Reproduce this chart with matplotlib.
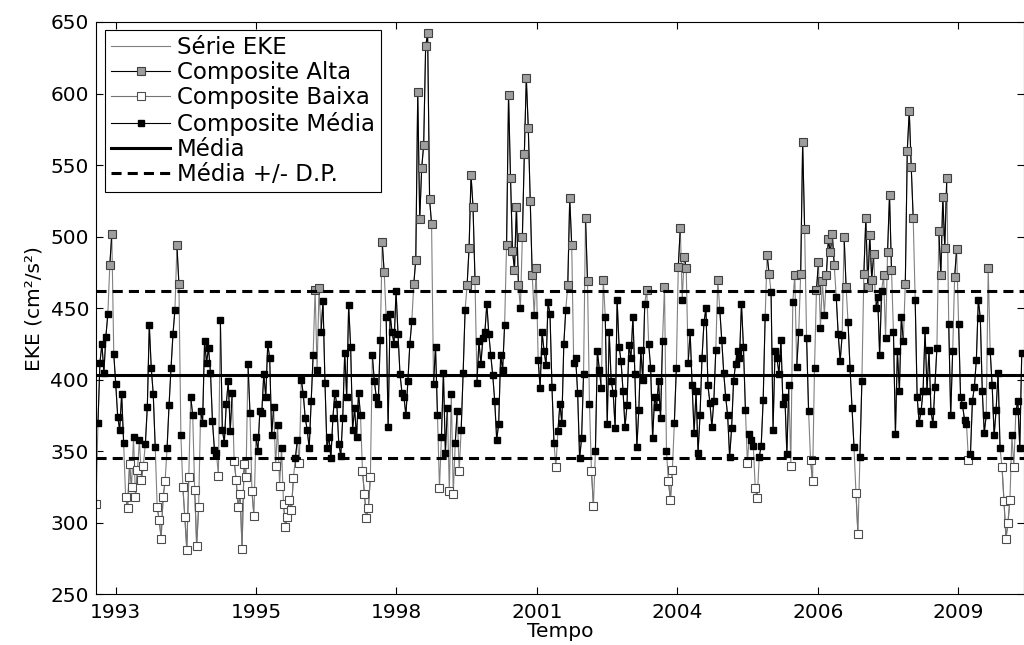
import datetime as dt
import numpy as np
import matplotlib.pyplot as plt

plt.rcParams['font.family'] = ['DejaVu Sans']

# serie EKE (cm2/s2), passo de ~14 dias a partir de out/1992
eke = [
    313, 370, 412, 425, 405, 430, 446, 480, 502, 418,
    397, 374, 365, 390, 356, 318, 310, 341, 325, 360,
    318, 337, 358, 330, 340, 355, 381, 438, 408, 390,
    353, 311, 302, 289, 318, 329, 352, 382, 408, 432,
    449, 494, 467, 361, 325, 304, 281, 332, 388, 375,
    323, 284, 311, 378, 370, 427, 412, 422, 405, 371,
    351, 349, 333, 442, 365, 356, 383, 399, 364, 391,
    343, 330, 311, 320, 282, 341, 332, 411, 377, 322,
    305, 360, 350, 378, 377, 404, 388, 425, 415, 361,
    381, 340, 368, 326, 352, 313, 297, 304, 316, 309,
    331, 345, 358, 342, 400, 390, 373, 365, 352, 385,
    417, 463, 407, 464, 433, 455, 398, 352, 360, 345,
    373, 391, 383, 355, 347, 373, 419, 388, 452, 423,
    365, 380, 360, 391, 375, 336, 320, 303, 310, 332,
    417, 399, 388, 383, 428, 496, 475, 444, 367, 446,
    433, 425, 462, 432, 404, 391, 388, 375, 399, 425,
    441, 467, 484, 601, 512, 548, 564, 633, 642, 526,
    509, 397, 423, 375, 324, 360, 405, 349, 380, 322,
    390, 320, 356, 378, 336, 365, 405, 449, 466, 492,
    543, 521, 470, 398, 427, 411, 429, 433, 453, 432,
    417, 403, 385, 358, 369, 417, 407, 438, 494, 599,
    541, 490, 477, 521, 466, 450, 500, 558, 611, 576,
    525, 473, 445, 478, 414, 394, 433, 420, 410, 454,
    446, 395, 356, 339, 364, 383, 370, 425, 449, 466,
    527, 494, 412, 415, 391, 345, 359, 404, 513, 469,
    383, 336, 312, 350, 420, 407, 394, 470, 444, 369,
    433, 399, 391, 366, 456, 423, 413, 392, 367, 382,
    424, 415, 444, 404, 353, 379, 421, 400, 453, 463,
    425, 408, 359, 388, 381, 399, 373, 427, 465, 350,
    329, 316, 337, 370, 408, 479, 506, 456, 486, 478,
    412, 433, 396, 363, 392, 349, 375, 415, 440, 450,
    396, 384, 367, 385, 421, 470, 449, 428, 405, 388,
    375, 346, 366, 399, 411, 420, 415, 453, 423, 379,
    342, 362, 358, 354, 324, 317, 346, 354, 386, 444,
    487, 474, 461, 365, 420, 415, 404, 428, 383, 388,
    348, 396, 340, 454, 473, 409, 433, 474, 566, 505,
    429, 378, 344, 329, 408, 463, 482, 436, 469, 445,
    473, 498, 489, 502, 480, 458, 432, 413, 431, 500,
    465, 440, 408, 380, 353, 321, 292, 346, 399, 474,
    513, 465, 501, 470, 488, 450, 458, 417, 462, 473,
    429, 489, 529, 477, 433, 362, 420, 392, 444, 427,
    467, 560, 588, 549, 513, 456, 388, 370, 378, 392,
    435, 392, 421, 378, 369, 395, 422, 504, 473, 528,
    492, 541, 439, 375, 420, 472, 491, 439, 388, 382,
    372, 369, 344, 348, 385, 395, 414, 456, 443, 392,
    363, 375, 478, 420, 396, 361, 379, 405, 352, 339,
    315, 289, 300, 316, 361, 339, 378, 385, 352, 419,
]
media = 403.5
dp = 58.5

inicio = dt.datetime(1992, 10, 23)
fim = dt.datetime(2010, 11, 24)
datas = [inicio + dt.timedelta(hours=337.4 * i) for i in range(len(eke))]

# ticks a cada 1000 dias (como no datetick do matlab)
ticks = [dt.datetime(1993, 3, 12) + dt.timedelta(days=1000 * k) for k in range(7)]

y = np.array(eke, dtype=float)
alta = np.where(y > media + dp, y, np.nan)
baixa = np.where(y < media - dp, y, np.nan)
med = np.where((y >= media - dp) & (y <= media + dp), y, np.nan)

fig = plt.figure(figsize=(10.24, 6.45), dpi=100)
ax = fig.add_axes([0.09375, 0.0786, 0.9058, 0.8873])

ax.plot(datas, y, color='0.5', lw=0.8, label='Série EKE')
ax.plot(datas, alta, '-s', color='k', lw=0.8, ms=5.5, mfc='0.62', mec='0.25',
        mew=0.8, label='Composite Alta')
ax.plot(datas, baixa, '-s', color='0.45', lw=0.8, ms=5.5, mfc='w', mec='0.3',
        mew=0.8, label='Composite Baixa')
ax.plot(datas, med, '-s', color='k', lw=0.8, ms=4, mfc='k', mec='k',
        label='Composite Média')
ax.axhline(media, color='k', lw=2.2, label='Média')
ax.axhline(media + dp, color='k', lw=2.2, ls=(0, (3.3, 2)), label='Média +/- D.P.')
ax.axhline(media - dp, color='k', lw=2.2, ls=(0, (3.3, 2)))

ax.set_xlim(inicio, fim)
ax.set_ylim(250, 650)
ax.set_yticks(range(250, 651, 50))
ax.set_xticks(ticks)
ax.set_xticklabels([str(t.year) for t in ticks])
ax.tick_params(direction='in', top=True, right=True, length=5, labelsize=14.5,
               width=0.8)
ax.tick_params(axis='y', pad=5)
ax.tick_params(axis='x', pad=6)
for s in ax.spines.values():
    s.set_linewidth(0.8)

ax.set_xlabel('Tempo', fontsize=14.5, labelpad=0)
ax.set_ylabel('EKE (cm²/s²)', fontsize=14.5, labelpad=5)

leg = ax.legend(loc='upper left', bbox_to_anchor=(0.0097, 0.986), borderaxespad=0,
                fancybox=False, edgecolor='k', framealpha=1, fontsize=16.5,
                handlelength=2.6, handletextpad=0.3, labelspacing=0.1,
                borderpad=0.25)
leg.get_frame().set_linewidth(0.8)

fig.savefig('out.png', dpi=100)
